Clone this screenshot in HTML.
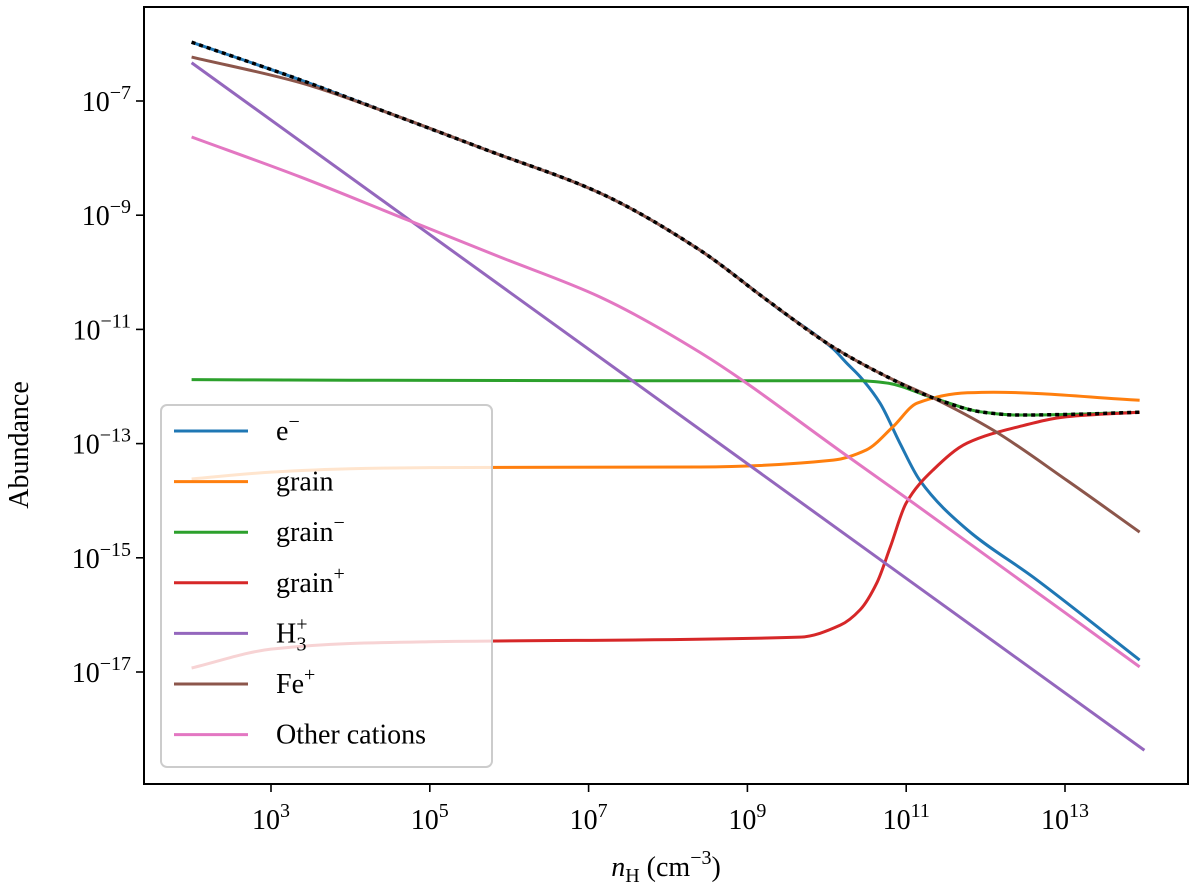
<!DOCTYPE html>
<html><head><meta charset="utf-8"><style>
html,body{margin:0;padding:0;background:#fff}
svg{display:block}
text{font-family:"Liberation Serif","DejaVu Serif",serif;fill:#000}
</style></head><body>
<svg id="chart" width="1200" height="892" viewBox="0 0 1200 892"></svg>
<script>
// ---- data (log10 nH, log10 abundance) ----
const xTicks = [3, 5, 7, 9, 11, 13];
const yTicks = [-7, -9, -11, -13, -15, -17];
const seriesNames = ["e\u2212", "grain", "grain\u2212", "grain+", "H3+", "Fe+", "Other cations"];
const eX = [2, 3.37, 4.5, 5.72, 7.14, 8.4, 9.25, 9.41, 10.08, 10.25, 10.42, 10.67, 10.92, 11.17, 11.77, 12.6, 13.94];
const eY = [-5.97, -6.63, -7.22, -7.86, -8.61, -9.61, -10.49, -10.66, -11.34, -11.59, -11.83, -12.29, -12.99, -13.64, -14.51, -15.34, -16.79];
const grainX = [2, 3, 4, 5, 8.4, 10.08, 10.5, 10.83, 11.14, 11.77, 12.1, 13.94];
const grainY = [-13.62, -13.5, -13.44, -13.42, -13.41, -13.29, -13.11, -12.71, -12.29, -12.11, -12.1, -12.24];
const grainMX = [2, 4, 8.4, 10.42, 10.76, 11.34, 11.97, 12.4, 13.0, 13.94];
const grainMY = [-11.88, -11.89, -11.9, -11.9, -11.94, -12.2, -12.45, -12.5, -12.49, -12.45];
const grainPX = [2, 3, 4, 5, 9.66, 10.17, 10.42, 10.63, 10.8, 11.0, 11.34, 11.77, 12.4, 13.02, 13.94];
const grainPY = [-16.93, -16.6, -16.5, -16.47, -16.39, -16.18, -15.91, -15.44, -14.81, -14.04, -13.46, -12.99, -12.71, -12.53, -12.45];
const h3X = [2, 14];
const h3Y = [-6.33, -18.37];
const feX = [2, 3.37, 4.5, 5.72, 7.14, 8.4, 9.25, 10.08, 10.76, 11.34, 12.09, 13.02, 13.94];
const feY = [-6.23, -6.68, -7.22, -7.86, -8.61, -9.61, -10.49, -11.31, -11.83, -12.2, -12.76, -13.64, -14.55];
const othX = [2, 3.37, 4.66, 5.88, 7.14, 8.4, 10.29, 11.09, 13.94];
const othY = [-7.63, -8.33, -9.05, -9.73, -10.43, -11.4, -13.25, -14.04, -16.91];
const totX = [2, 3.37, 4.5, 5.72, 7.14, 8.4, 9.25, 10.08, 10.76, 11.34, 11.97, 12.4, 13.0, 13.94];
const totY = [-5.97, -6.63, -7.22, -7.86, -8.61, -9.61, -10.49, -11.31, -11.83, -12.2, -12.45, -12.5, -12.49, -12.45];

const NS = "http://www.w3.org/2000/svg";
const svg = document.getElementById("chart");
const L = 144, R = 1188, T = 7, B = 784;
function X(v){ return 271 + 79.4 * (v - 3); }
function Y(v){ return 101 + 57.1 * (-7 - v); }
function mk(tag, attrs, parent){
  const e = document.createElementNS(NS, tag);
  for (const k in attrs) e.setAttribute(k, attrs[k]);
  (parent || svg).appendChild(e);
  return e;
}
// monotone cubic (Fritsch-Carlson) path in screen space
function pathD(xs, ys){
  const px = xs.map(X), py = ys.map(Y), n = px.length;
  if (n === 2) return "M" + px[0] + "," + py[0] + " L" + px[1] + "," + py[1];
  const d = [], m = new Array(n);
  for (let i = 0; i < n - 1; i++) d.push((py[i+1]-py[i])/(px[i+1]-px[i]));
  m[0] = d[0]; m[n-1] = d[n-2];
  for (let i = 1; i < n - 1; i++){
    if (d[i-1]*d[i] <= 0) m[i] = 0;
    else { const h0 = px[i]-px[i-1], h1 = px[i+1]-px[i];
      const w1 = 2*h1 + h0, w2 = h1 + 2*h0;
      m[i] = (w1 + w2) / (w1/d[i-1] + w2/d[i]); }
  }
  let s = "M" + px[0] + "," + py[0];
  for (let i = 0; i < n - 1; i++){
    const h = (px[i+1]-px[i]) / 3;
    s += " C" + (px[i]+h) + "," + (py[i]+m[i]*h) + " " + (px[i+1]-h) + "," + (py[i+1]-m[i+1]*h) + " " + px[i+1] + "," + py[i+1];
  }
  return s;
}
const clip = mk("clipPath", {id:"pc"});
mk("rect", {x:L, y:T, width:R-L, height:B-T}, clip);
const g = mk("g", {"clip-path":"url(#pc)"});



const series = [
  [eX, eY, "#1f77b4", "series-electrons"],
  [grainX, grainY, "#ff7f0e", "series-grain"],
  [grainMX, grainMY, "#2ca02c", "series-grain-minus"],
  [grainPX, grainPY, "#d62728", "series-grain-plus"],
  [h3X, h3Y, "#9467bd", "series-h3-plus"],
  [feX, feY, "#8c564b", "series-fe-plus"],
  [othX, othY, "#e377c2", "series-other-cations"]
];
series.forEach(s => {
  const p = mk("path", {d:pathD(s[0], s[1]), fill:"none", stroke:s[2], "stroke-width":3, "stroke-linejoin":"round"}, g);
  
  
});
const tot = mk("path", {d:pathD(totX, totY), fill:"none", stroke:"#000", "stroke-width":3.5, "stroke-dasharray":"4,4"}, g);



const frame = mk("rect", {x:L, y:T, width:R-L, height:B-T, fill:"none", stroke:"#000", "stroke-width":2});



xTicks.forEach(t => {
  const x = X(t);
  mk("line", {x1:x, x2:x, y1:B, y2:B+8, stroke:"#000", "stroke-width":1.6});
  const tx = mk("text", {x:x, y:B+45, "font-size":28, "text-anchor":"middle"});
  
  
  tx.innerHTML = '10<tspan font-size="20" dy="-12">' + t + '</tspan>';
});
yTicks.forEach(t => {
  const y = Y(t);
  mk("line", {x1:L-8, x2:L, y1:y, y2:y, stroke:"#000", "stroke-width":1.6});
  const ty = mk("text", {x:131, y:y+10, "font-size":28, "text-anchor":"end"});
  
  
  ty.innerHTML = '10<tspan font-size="20" dy="-12">\u2212' + (-t) + '</tspan>';
});
const xt = mk("text", {x:666, y:876, "font-size":28, "text-anchor":"middle"});


xt.innerHTML = '<tspan font-style="italic">n</tspan><tspan font-size="20" dy="6">H</tspan><tspan dy="-6"> (cm</tspan><tspan font-size="20" dy="-12">\u22123</tspan><tspan dy="12">)</tspan>';
const yt = mk("text", {x:0, y:0, "font-size":28, "text-anchor":"middle", transform:"translate(28,445) rotate(-90)"});


yt.textContent = "Abundance";

const lg = mk("g", {});


mk("rect", {x:161, y:405, width:331, height:362, rx:6, fill:"#fff", "fill-opacity":0.8, stroke:"#ccc", "stroke-width":2}, lg);
const labHTML = ['e<tspan font-size="20" dy="-12">\u2212</tspan>', 'grain', 'grain<tspan font-size="20" dy="-12">\u2212</tspan>', 'grain<tspan font-size="20" dy="-12">+</tspan>', 'H<tspan font-size="20" dy="-12">+</tspan><tspan font-size="20" dx="-11" dy="20">3</tspan>', 'Fe<tspan font-size="20" dy="-12">+</tspan>', 'Other cations'];
seriesNames.forEach((n, i) => {
  const y = 431 + i * 50.6;
  const ln = mk("line", {x1:174, x2:248, y1:y, y2:y, stroke:series[i][2], "stroke-width":3}, lg);
  
  
  const t = mk("text", {x:276, y:y+9, "font-size":28}, lg);
  
  
  t.innerHTML = labHTML[i];
});
</script>
</body></html>
